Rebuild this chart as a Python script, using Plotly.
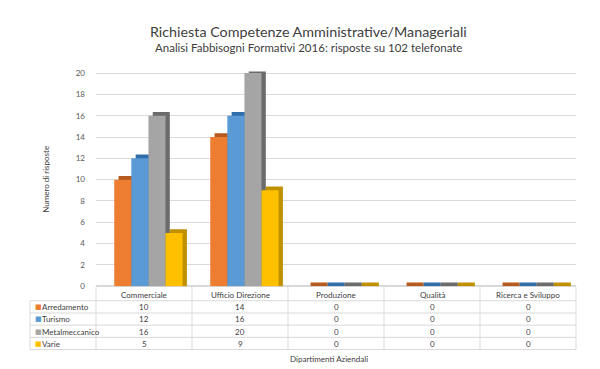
import plotly.graph_objects as go

categories = ["Commerciale", "Ufficio Direzione", "Produzione", "Qualità", "Ricerca e Sviluppo"]
series_names = ["Arredamento", "Turismo", "Metalmeccanico", "Varie"]
arredamento = [10, 14, 0, 0, 0]
turismo = [12, 16, 0, 0, 0]
metalmeccanico = [16, 20, 0, 0, 0]
varie = [5, 9, 0, 0, 0]
y_ticks = [0, 2, 4, 6, 8, 10, 12, 14, 16, 18, 20]

series_values = [arredamento, turismo, metalmeccanico, varie]
front_colors = ["#ED7D31", "#5B9BD5", "#A5A5A5", "#FFC000"]
side_colors = ["#B65A1E", "#2F6EA8", "#6B6B6B", "#BF9000"]

W, H = 600, 369
FONT = "Lato"
TXT = "#404040"
LINE = "#D9D9D9"
fig = go.Figure()

bar_w = 0.178
start = -0.31
depth_x = 0.045
depth_y = 0.35

# 3D-look "side/top" bars drawn behind the front faces
for i, (name, vals) in enumerate(zip(series_names, series_values)):
    fig.add_trace(go.Bar(
        x=categories, y=[v + depth_y for v in vals],
        width=bar_w, offset=start + i * bar_w + depth_x,
        marker=dict(color=side_colors[i], line=dict(width=0)),
        showlegend=False, hoverinfo="skip",
    ))
for i, (name, vals) in enumerate(zip(series_names, series_values)):
    fig.add_trace(go.Bar(
        x=categories, y=vals, name=name,
        width=bar_w, offset=start + i * bar_w,
        marker=dict(color=front_colors[i], line=dict(width=0)),
        showlegend=False,
    ))

# ---- data table (annotations + lines) ----
x_left, x_lab, x_right = 22, 88, 568
col_w = (x_right - x_lab) / len(categories)
y_floor = 282
header_y = 290
row_lines = [296, 308.5, 321, 333.5, 346]
row_centers = [302, 314.5, 327.5, 340]

shapes = []
def pline(x0, y0, x1, y1):
    shapes.append(dict(type="line", xref="paper", yref="paper",
                       x0=x0 / W, x1=x1 / W, y0=1 - y0 / H, y1=1 - y1 / H,
                       line=dict(color=LINE, width=1)))

for yl in row_lines:
    pline(x_left, yl, x_right, yl)
pline(x_left, row_lines[0], x_left, row_lines[-1])
for j in range(len(categories) + 1):
    xv = x_lab + j * col_w
    pline(xv, y_floor, xv, row_lines[-1])

annotations = []
for cat in categories:
    annotations.append(dict(text=cat, x=cat, xref="x", y=1 - header_y / H, yref="paper",
                            showarrow=False, yanchor="middle",
                            font=dict(size=8, color=TXT, family=FONT)))
for i, (name, vals) in enumerate(zip(series_names, series_values)):
    yc = 1 - row_centers[i] / H
    annotations.append(dict(text="■", x=25 / W, xref="paper", y=yc, yref="paper",
                            showarrow=False, xanchor="left", yanchor="middle",
                            font=dict(size=7, color=front_colors[i], family="DejaVu Sans")))
    annotations.append(dict(text=name, x=32 / W, xref="paper", y=yc, yref="paper",
                            showarrow=False, xanchor="left", yanchor="middle",
                            font=dict(size=8, color=TXT, family=FONT)))
    for cat, v in zip(categories, vals):
        annotations.append(dict(text=str(v), x=cat, xref="x", y=yc, yref="paper",
                                showarrow=False, yanchor="middle",
                                font=dict(size=8, color=TXT, family=FONT)))

annotations += [
    dict(text="Richiesta Competenze Amministrative/Manageriali", x=0.5, y=1 - 20 / H,
         xref="paper", yref="paper", showarrow=False, yanchor="middle",
         font=dict(size=14.3, color=TXT, family=FONT)),
    dict(text="Analisi Fabbisogni Formativi 2016: risposte su 102 telefonate", x=0.5, y=1 - 36 / H,
         xref="paper", yref="paper", showarrow=False, yanchor="middle",
         font=dict(size=11.5, color=TXT, family=FONT)),
    dict(text="Numero di risposte", x=31 / W, y=1 - 172 / H, textangle=-90,
         xref="paper", yref="paper", showarrow=False, yanchor="middle",
         font=dict(size=8, color=TXT, family=FONT)),
    dict(text="Dipartimenti Aziendali", x=321 / W, y=1 - 356 / H,
         xref="paper", yref="paper", showarrow=False, yanchor="middle",
         font=dict(size=8, color=TXT, family=FONT)),
]

fig.update_layout(
    width=W, height=H,
    margin=dict(l=0, r=0, t=0, b=0),
    paper_bgcolor="white", plot_bgcolor="white",
    barmode="overlay",
    font=dict(family=FONT, color="#595959"),
    xaxis=dict(domain=[x_lab / W, x_right / W], showticklabels=False, showgrid=False,
               zeroline=False, showline=False, ticks=""),
    yaxis=dict(domain=[1 - 281 / H, 1 - 61 / H], range=[0, 20.15],
               tickvals=y_ticks, ticktext=[str(t) for t in y_ticks],
               showgrid=True, gridcolor=LINE, gridwidth=1,
               zeroline=True, zerolinecolor=LINE,
               tickfont=dict(size=8, color="#595959"), ticks="", ticklabelstandoff=10),
    shapes=shapes,
    annotations=annotations,
)

fig.write_html("out.html")
